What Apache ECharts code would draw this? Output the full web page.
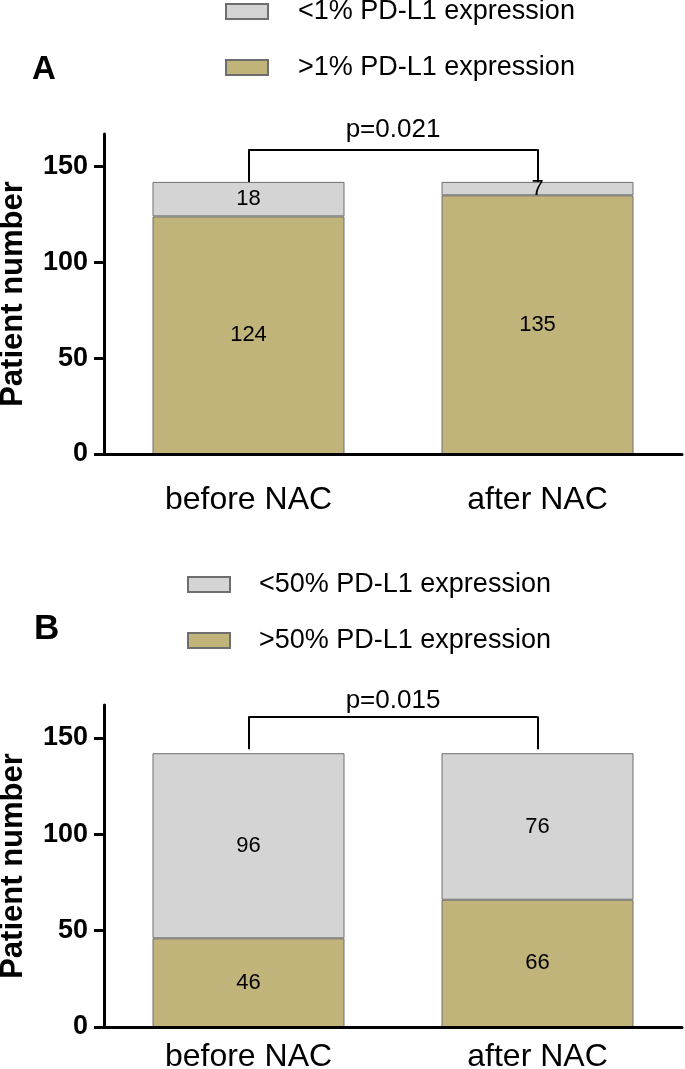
<!DOCTYPE html>
<html>
<head>
<meta charset="utf-8">
<script src="https://cdn.jsdelivr.net/npm/echarts@6/dist/echarts.min.js"></script>
<style>
  html, body { margin: 0; padding: 0; background: #fff; }
  #chart { width: 685px; height: 1069px; }
</style>
</head>
<body>
<div id="chart"></div>
<script>
// ---- data ----
const categories = ['before NAC', 'after NAC'];

// panel A: 1% cut-off
const namesA = ['<1% PD-L1 expression', '>1% PD-L1 expression'];
const lowA = [18, 7];
const highA = [124, 135];

// panel B: 50% cut-off
const namesB = ['<50% PD-L1 expression', '>50% PD-L1 expression'];
const lowB = [96, 76];
const highB = [46, 66];

const pValues = ['p=0.021', 'p=0.015'];
const bracketTop = [159, 161];
const bracketLeg = [142, 144];

const yTicks = [0, 50, 100, 150];
const yMax = 167;

// ---- style ----
const FONT = "'Liberation Sans', Arial, sans-serif";
const GOLD = '#c0b47b';
const GRAY = '#d4d4d4';

function yAxisFor(gridIndex) {
  return {
    type: 'value',
    gridIndex: gridIndex,
    min: 0,
    max: yMax,
    interval: 50,
    name: 'Patient number',
    nameLocation: 'middle',
    nameGap: 75,
    nameTextStyle: { fontFamily: FONT, fontWeight: 'bold', fontSize: 31, color: '#000' },
    axisLine: { show: true, lineStyle: { color: '#000', width: 3 } },
    axisTick: { show: true, length: 10, lineStyle: { color: '#000', width: 3 }, customValues: yTicks },
    axisLabel: {
      fontFamily: FONT, fontWeight: 'bold', fontSize: 27, color: '#000',
      margin: 16, customValues: yTicks
    },
    splitLine: { show: false }
  };
}

function xAxisFor(gridIndex, tickLen, labelMargin) {
  return {
    type: 'category',
    gridIndex: gridIndex,
    data: categories,
    z: 5,
    axisLine: { lineStyle: { color: '#000', width: 3 } },
    axisTick: { alignWithLabel: true, length: tickLen, lineStyle: { color: '#000', width: 3 } },
    axisLabel: { fontFamily: FONT, fontSize: 32, color: '#000', margin: labelMargin }
  };
}

function barSeries(name, values, color, axisIndex) {
  return {
    name: name,
    type: 'bar',
    stack: 'panel' + axisIndex,
    xAxisIndex: axisIndex,
    yAxisIndex: axisIndex,
    barWidth: 192,
    data: values,
    itemStyle: { color: color, borderColor: '#6e6e6e', borderWidth: 1 },
    label: {
      show: true, position: 'inside',
      fontFamily: FONT, fontSize: 22, color: '#000'
    }
  };
}

// bracket with p value, drawn through the axes' own coordinates
function bracket(i, labelGap) {
  const lineStyle = { color: '#000', width: 2, type: 'solid' };
  return {
    silent: true,
    symbol: 'none',
    animation: false,
    lineStyle: lineStyle,
    emphasis: { disabled: true },
    data: [
      [
        { coord: [categories[0], bracketTop[i]], label: {
          show: true, position: 'middle', formatter: pValues[i], distance: labelGap,
          fontFamily: FONT, fontSize: 26, color: '#000' } },
        { coord: [categories[1], bracketTop[i]] }
      ],
      [
        { coord: [categories[0], bracketTop[i]], label: { show: false } },
        { coord: [categories[0], bracketLeg[i]] }
      ],
      [
        { coord: [categories[1], bracketTop[i]], label: { show: false } },
        { coord: [categories[1], bracketLeg[i]] }
      ]
    ]
  };
}

function legendFor(names, left, top, textGap) {
  return {
    data: names,
    orient: 'vertical',
    left: left,
    top: top,
    padding: 0,
    icon: 'rect',
    itemWidth: 42,
    itemHeight: 15,
    itemGap: 29,
    selectedMode: false,
    textStyle: { fontFamily: FONT, fontSize: 27, color: '#000', padding: [0, 0, 0, textGap] }
  };
}

const chart = echarts.init(document.getElementById('chart'));

const seriesA = [
  barSeries(namesA[1], highA, GOLD, 0),
  barSeries(namesA[0], lowA, GRAY, 0)
];
seriesA[1].markLine = bracket(0, 7);

const seriesB = [
  barSeries(namesB[1], highB, GOLD, 1),
  barSeries(namesB[0], lowB, GRAY, 1)
];
seriesB[1].markLine = bracket(1, 3);

chart.setOption({
  animation: false,
  backgroundColor: '#fff',
  grid: [
    { left: 104, top: 134, width: 578, height: 320, outerBoundsMode: 'none' },
    { left: 104, top: 705, width: 578, height: 322, outerBoundsMode: 'none' }
  ],
  xAxis: [xAxisFor(0, 10, 30), xAxisFor(1, 3, 14)],
  yAxis: [yAxisFor(0), yAxisFor(1)],
  legend: [
    legendFor(namesA, 225, -2, 25),
    legendFor(namesB, 187, 571, 24)
  ],
  graphic: [
    { type: 'text', left: 32, top: 53, style: { text: 'A', fontFamily: FONT, fontWeight: 'bold', fontSize: 33, fill: '#000' } },
    { type: 'text', left: 34, top: 612, style: { text: 'B', fontFamily: FONT, fontWeight: 'bold', fontSize: 35, fill: '#000' } }
  ],
  series: seriesA.concat(seriesB)
});
</script>
</body>
</html>
